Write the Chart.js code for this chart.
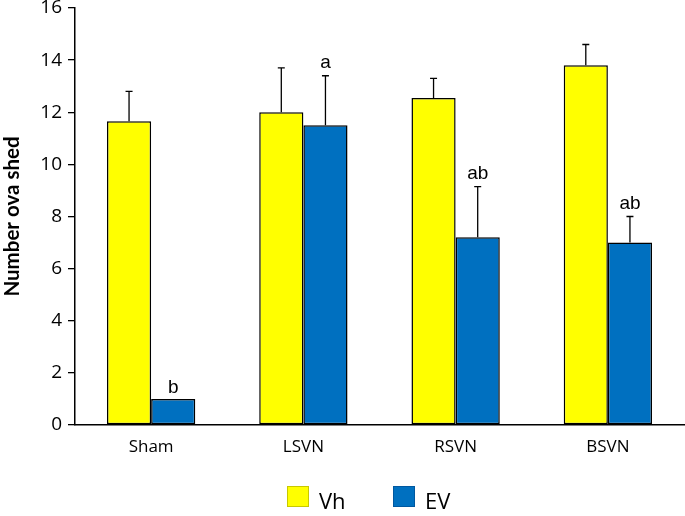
<!DOCTYPE html>
<html>
<head>
<meta charset="utf-8">
<script src="https://cdn.jsdelivr.net/npm/chart.js@4/dist/chart.umd.min.js"></script>
<style>
  html, body { margin: 0; padding: 0; background: #fff; }
  #wrap { width: 685px; height: 516px; }
</style>
</head>
<body>
<div id="wrap"><canvas id="ovaChart" width="685" height="516"></canvas></div>
<script>
// Data
const groups = ['Sham', 'LSVN', 'RSVN', 'BSVN'];
const vhMeans = [11.65, 12.0, 12.55, 13.8];
const vhErrors = [1.15, 1.7, 0.75, 0.8];
const evMeans = [1.0, 11.5, 7.2, 7.0];
const evErrors = [0, 1.9, 1.95, 1.0];
const evLetters = ['b', 'a', 'ab', 'ab'];
const yTicks = [0, 2, 4, 6, 8, 10, 12, 14, 16];

const tickFont = { family: 'Open Sans', size: 19 };

// error bars (upward only) + significance letters
const errorBarPlugin = {
    id: 'errorBars',
    afterDatasetsDraw(chart) {
        const ctx = chart.ctx;
        const yScale = chart.scales.y;
        ctx.save();
        chart.data.datasets.forEach((ds, i) => {
            const meta = chart.getDatasetMeta(i);
            meta.data.forEach((bar, j) => {
                const err = ds.errors[j];
                const topY = yScale.getPixelForValue(ds.data[j] + err);
                if (err > 0) {
                    ctx.strokeStyle = '#000';
                    ctx.lineWidth = 1.3;
                    ctx.beginPath();
                    ctx.moveTo(bar.x, bar.y);
                    ctx.lineTo(bar.x, topY);
                    ctx.moveTo(bar.x - 3.5, topY);
                    ctx.lineTo(bar.x + 3.5, topY);
                    ctx.stroke();
                }
                if (ds.letters && ds.letters[j]) {
                    ctx.fillStyle = '#000';
                    ctx.font = '19px "Liberation Sans", Arial, sans-serif';
                    ctx.textAlign = 'center';
                    ctx.textBaseline = 'alphabetic';
                    ctx.fillText(ds.letters[j], bar.x, topY - (err > 0 ? 8 : 6));
                }
            });
        });
        ctx.restore();
    }
};

// legend drawn under the axis
const bottomLegend = {
    id: 'bottomLegend',
    afterDraw(chart) {
        const ctx = chart.ctx;
        const boxX = [287, 393];
        ctx.save();
        chart.data.datasets.forEach((ds, i) => {
            ctx.fillStyle = ds.backgroundColor;
            ctx.fillRect(boxX[i], 486, 22, 21);
            ctx.strokeStyle = i === 0 ? '#c8c800' : '#0058a0';
            ctx.lineWidth = 1;
            ctx.strokeRect(boxX[i] + 0.5, 486.5, 21, 20);
            ctx.fillStyle = '#000';
            ctx.font = '22px "Open Sans", sans-serif';
            ctx.textAlign = 'left';
            ctx.textBaseline = 'middle';
            ctx.fillText(ds.label, boxX[i] + 32, 503);
        });
        ctx.restore();
    }
};

function initChart() {
    const ctx = document.getElementById('ovaChart').getContext('2d');
    new Chart(ctx, {
        type: 'bar',
        data: {
            labels: groups,
            datasets: [{
                label: 'Vh',
                data: vhMeans,
                errors: vhErrors,
                backgroundColor: '#ffff00',
                borderColor: '#000',
                borderWidth: 1.5,
                borderSkipped: false
            }, {
                label: 'EV',
                data: evMeans,
                errors: evErrors,
                letters: evLetters,
                backgroundColor: '#0070c0',
                borderColor: '#000',
                borderWidth: 1.5,
                borderSkipped: false
            }]
        },
        options: {
            responsive: false,
            animation: false,
            layout: { padding: { top: 8, right: 1, bottom: 51, left: 0 } },
            datasets: { bar: { categoryPercentage: 0.58, barPercentage: 1.0 } },
            scales: {
                x: {
                    grid: { drawOnChartArea: false, drawTicks: false, color: 'transparent' },
                    border: { display: true, color: '#000', width: 1.5 },
                    ticks: { color: '#000', font: { family: 'Open Sans', size: 17 }, padding: 12 },
                    afterFit: s => { s.height = 40; s.paddingLeft = 0; s.paddingRight = 0; }
                },
                y: {
                    min: 0,
                    max: 16,
                    afterBuildTicks: s => { s.ticks = yTicks.map(v => ({ value: v })); },
                    grid: { drawOnChartArea: false, drawTicks: true, tickLength: 7, color: '#000', lineWidth: 1.3 },
                    border: { display: true, color: '#000', width: 1.5 },
                    ticks: { color: '#000', font: tickFont, padding: 6 },
                    title: {
                        display: true,
                        text: 'Number ova shed',
                        color: '#000',
                        font: { family: 'Lato', size: 20.5, weight: 'bold' },
                        padding: 0
                    },
                    afterFit: s => { s.width = 75; s.paddingTop = 0; s.paddingBottom = 0; }
                }
            },
            plugins: {
                legend: { display: false },
                tooltip: { enabled: false }
            }
        },
        plugins: [errorBarPlugin, bottomLegend]
    });
}

window.onload = initChart;
</script>
</body>
</html>
